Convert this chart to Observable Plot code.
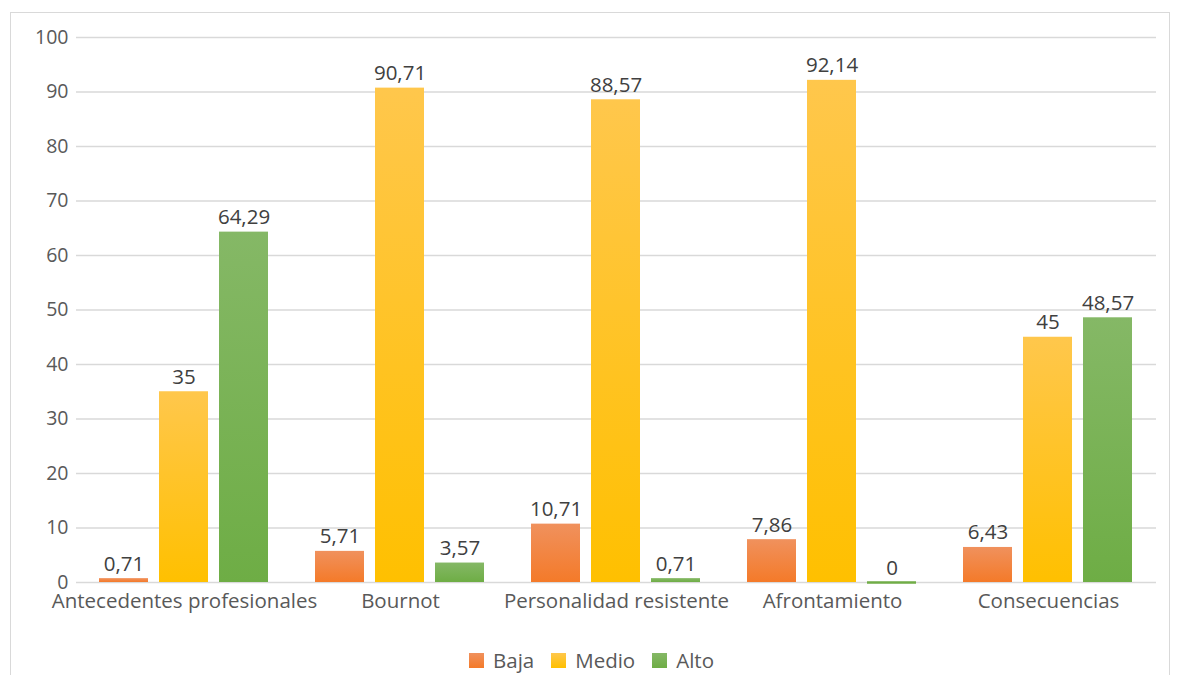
<!DOCTYPE html>
<html>
<head>
<meta charset="utf-8">
<script src="https://cdn.jsdelivr.net/npm/d3@7"></script>
<script src="https://cdn.jsdelivr.net/npm/@observablehq/plot@0.6"></script>
<style>
  body { margin: 0; background: #fff; font-family: "Open Sans", Lato, sans-serif; }
  #frame { position: absolute; left: 10px; top: 12px; width: 1160px; height: 700px; border: 1.5px solid #d9d9d9; box-sizing: border-box; }
  #chart { position: absolute; left: 0; top: 0; }
  #legend { position: absolute; left: 0; width: 1183px; top: 646px; display: flex; justify-content: center; gap: 17px; font-size: 20.5px; line-height: 28px; color: #595959; }
  #legend .item { display: flex; align-items: center; gap: 9px; }
  #legend .sw { width: 15px; height: 15px; display: inline-block; }
</style>
</head>
<body>
<div id="frame"></div>
<div id="chart"></div>
<div id="legend"></div>
<script>
const categories = ["Antecedentes profesionales", "Bournot", "Personalidad resistente", "Afrontamiento", "Consecuencias"];
const series = ["Baja", "Medio", "Alto"];
const baja  = [0.71, 5.71, 10.71, 7.86, 6.43];
const medio = [35, 90.71, 88.57, 92.14, 45];
const alto  = [64.29, 3.57, 0.71, 0, 48.57];
const yTicks = [0, 10, 20, 30, 40, 50, 60, 70, 80, 90, 100];

const gradients = {
  Baja:  ["#F0915D", "#F47A29"],
  Medio: ["#FFC74C", "#FFC000"],
  Alto:  ["#85B866", "#6EAD45"]
};
const solid = { Baja: "#F47C30", Medio: "#FFC000", Alto: "#70AD47" };

const valuesBySeries = { Baja: baja, Medio: medio, Alto: alto };
const data = [];
categories.forEach((c, i) => series.forEach(s => data.push({ category: c, series: s, value: valuesBySeries[s][i] })));

const fmt = v => String(v).replace(".", ",");

const barMarks = series.map(s =>
  Plot.barY(data.filter(d => d.series === s), { fx: "category", x: "series", y: "value", fill: `url(#grad${s})` })
);

const plot = Plot.plot({
  width: 1183,
  height: 625,
  marginLeft: 76,
  marginRight: 27,
  marginTop: 37,
  marginBottom: 43,
  style: { fontFamily: "'Open Sans', Lato, sans-serif", background: "transparent" },
  fx: { domain: categories, padding: 0, label: null },
  x: { domain: series, paddingInner: 0.183, paddingOuter: 0.39, axis: null },
  y: { domain: [0, 100], label: null },
  marks: [
    Plot.gridY(yTicks, { stroke: "#d9d9d9", strokeOpacity: 1, strokeWidth: 1.5 }),
    Plot.axisY({ ticks: yTicks, tickSize: 0, tickPadding: 8, fontSize: 19.5, color: "#595959", label: null }),
    Plot.axisFx({ anchor: "bottom", tickSize: 0, tickPadding: 11, fontSize: 20.5, color: "#595959", label: null, lineAnchor: "top" }),
    ...barMarks,
    Plot.tickY(data.filter(d => d.value === 0), { fx: "category", x: "series", y: "value", stroke: d => solid[d.series], strokeWidth: 2.5 }),
    Plot.text(data, { fx: "category", x: "series", y: "value", text: d => fmt(d.value), lineAnchor: "bottom", dy: -8, fontSize: 20.5, fill: "#404040" })
  ]
});

// gradient definitions
const svg = d3.select(plot);
const defs = svg.insert("defs", ":first-child");
series.forEach(s => {
  const g = defs.append("linearGradient").attr("id", `grad${s}`).attr("x1", 0).attr("y1", 0).attr("x2", 0).attr("y2", 1);
  g.append("stop").attr("offset", "0%").attr("stop-color", gradients[s][0]);
  g.append("stop").attr("offset", "100%").attr("stop-color", gradients[s][1]);
});
document.getElementById("chart").appendChild(plot);

// legend
const legend = d3.select("#legend");
series.forEach(s => {
  const item = legend.append("div").attr("class", "item");
  item.append("span").attr("class", "sw").style("background", `linear-gradient(${gradients[s][0]}, ${gradients[s][1]})`);
  item.append("span").text(s);
});
</script>
</body>
</html>
